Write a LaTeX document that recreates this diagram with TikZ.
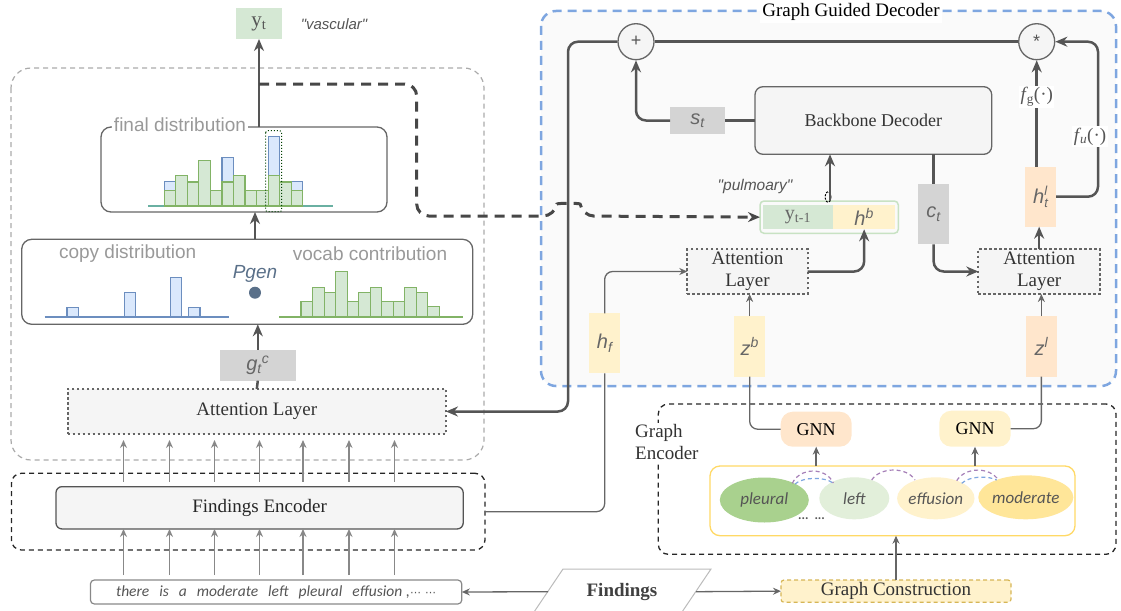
\documentclass[tikz,border=0pt]{standalone}
\usepackage{fontspec}
\setmainfont{Liberation Serif}
\newfontfamily\arialf{Liberation Sans}
\newfontfamily\calif{Carlito}
\newfontfamily\dejaf{DejaVu Sans}
\usetikzlibrary{arrows.meta,shapes.geometric,calc}
\definecolor{gfill}{HTML}{D5E8D4}
\definecolor{gline}{HTML}{82B366}
\definecolor{bfill}{HTML}{DAE8FC}
\definecolor{bline}{HTML}{6C8EBF}
\definecolor{tealline}{HTML}{6AB0A2}
\definecolor{yel}{HTML}{FFF2CC}
\definecolor{ora}{HTML}{FFE6CC}
\definecolor{lgr}{HTML}{D4D4D4}
\definecolor{dline}{HTML}{555555}
\definecolor{mline}{HTML}{666666}
\definecolor{sline}{HTML}{888888}
\definecolor{bluedash}{HTML}{7EA6E0}
\definecolor{purp}{HTML}{A680B8}
\definecolor{pg}{HTML}{5A7089}
\definecolor{lightbg}{HTML}{FAFAFA}
\definecolor{boxbg}{HTML}{F5F5F5}
\definecolor{txtgray}{HTML}{999999}
\definecolor{txtdark}{HTML}{333333}
\definecolor{outgray}{HTML}{AAAAAA}
\definecolor{ygreen}{HTML}{C8E2C3}
\definecolor{gcline}{HTML}{D6B656}
\definecolor{gboxline}{HTML}{FFD966}
\definecolor{pleuralc}{HTML}{A9D18E}
\definecolor{leftc}{HTML}{E2EFDA}
\definecolor{modc}{HTML}{FFE699}
\definecolor{paral}{HTML}{BBBBBB}
\tikzset{
  thickarr/.style={draw=dline, line width=2.5pt, -{Stealth[length=12pt,width=10pt]}, rounded corners=10pt},
  thickln/.style={draw=dline, line width=2.5pt, rounded corners=10pt},
  thinarr/.style={draw=mline, line width=1.3pt, -{Stealth[length=8pt,width=7pt]}, rounded corners=8pt},
  thinln/.style={draw=mline, line width=1.3pt, rounded corners=8pt},
  smallarr/.style={draw=sline, line width=1.5pt, -{Stealth[length=8pt,width=7pt]}},
  rbox/.style={inner sep=0pt, outer sep=0pt},
  serif/.style={font=\fontsize{19}{22}\selectfont, text=txtdark},
  gtext/.style={font=\arialf\itshape\fontsize{20}{22}\selectfont, text=mline},
  attn/.style={rbox, draw=mline, line width=2pt, dash pattern=on 2.5pt off 2.5pt, fill=boxbg, serif, align=center},
  gbar/.style={draw=gline, line width=1.1pt, fill=gfill},
  bbar/.style={draw=bline, line width=1.1pt, fill=bfill},
  ell/.style={ellipse, inner sep=0pt, font=\calif\itshape\fontsize{17}{20}\selectfont, text=dline},
  arcp/.style={draw=purp, line width=1.2pt, dash pattern=on 4pt off 3pt},
  arcb/.style={draw=bluedash, line width=1.2pt, dash pattern=on 4pt off 3pt},
}
\begin{document}
\begin{tikzpicture}[x=1pt,y=-1pt]
\useasboundingbox (0,0) rectangle (1121,610);

% ---------- decoder region ----------
\draw[draw=bluedash, line width=2.5pt, dash pattern=on 9pt off 6pt, fill=lightbg, rounded corners=15pt] (541,11) rectangle (1116,386);
\node[fill=white, inner sep=2pt, font=\fontsize{19}{22}\selectfont] (title) at (851,12) {Graph Guided Decoder};

% ---------- left: outer gray dashed ----------
\draw[draw=outgray, line width=1.2pt, dash pattern=on 5pt off 4pt, rounded corners=20pt] (11,68) rectangle (484,460);

% y_t
\node[rbox, fill=gfill, minimum width=46pt, minimum height=31pt, font=\fontsize{21}{22}\selectfont, text=dline] (yt) at (259,23.5) {y\textsubscript{t}};
\node[font=\arialf\itshape\fontsize{15}{18}\selectfont, text=dline] (vasc) at (334,24) {"vascular"};

% final distribution
\node[rbox, draw=mline, line width=1.3pt, rounded corners=10pt, minimum width=286pt, minimum height=85pt] (final) at (244,169.5) {};
\node[fill=white, inner sep=2pt, font=\arialf\fontsize{19}{22}\selectfont, text=txtgray] (fdl) at (180,125) {final distribution};
\draw[draw=tealline, line width=1.3pt] (148,206) -- (333,206);
\foreach \b/\t in {0/181.7,5/157.3,9/136.7,11/181.7}{
  \draw[bbar] ({164.3+\b*11.53},200) rectangle ({164.3+(\b+1)*11.53},\t);
}
\foreach \h [count=\i from 0] in {190.7,175.7,182,160.7,190.7,182,175.7,190.7,190.7,175.7,182,190.7}{
  \draw[gbar] ({164.3+\i*11.53},206) rectangle ({164.3+(\i+1)*11.53},\h);
}
\draw[draw=black!75!green, line width=1pt, dotted, rounded corners=2pt] (265.7,130.7) rectangle (281.7,211.7);

% copy / vocab
\node[rbox, draw=mline, line width=1.3pt, rounded corners=10pt, minimum width=451pt, minimum height=85pt] (mix) at (247.2,281.8) {};
\node[font=\arialf\fontsize{19}{22}\selectfont, text=txtgray] (copyl) at (127.7,254) {copy distribution};
\node[font=\arialf\fontsize{19}{22}\selectfont, text=txtgray] (vocl) at (370,254) {vocab contribution};
\node[font=\arialf\itshape\fontsize{19}{22}\selectfont, text=pg] (pgen) at (255,273.5) {Pgen};
\fill[pg] (255,292.7) circle (6pt);
\draw[draw=bline, line width=1.3pt] (44.7,317) -- (228.7,317);
\draw[bbar] (67,317) rectangle (78.7,307.7);
\draw[bbar] (124.3,317) rectangle (135.7,292.7);
\draw[bbar] (170.3,317) rectangle (181.7,277.7);
\draw[bbar] (188.3,317) rectangle (200,307.7);
\draw[draw=gline, line width=1.3pt] (279.3,317) -- (463.3,317);
\foreach \h [count=\i from 0] in {301.7,287.3,292.7,271.7,301.7,292.7,287.3,301.7,301.7,287.3,292.7,306.3}{
  \draw[gbar] ({301+\i*11.53},317) rectangle ({301+(\i+1)*11.53},\h);
}

% g_t^c
\node[rbox, fill=lgr, minimum width=75.7pt, minimum height=30.7pt, gtext] (gtc) at (257.8,365.3) {g\textsubscript{t}\textsuperscript{c}};

% attention layer (left)
\node[attn, minimum width=378.3pt, minimum height=45pt] (attL) at (256.8,411.5) {Attention Layer};

% findings encoder
\node[rbox, draw=black!85, line width=1.3pt, dash pattern=on 5pt off 4pt, rounded corners=10pt, minimum width=473.6pt, minimum height=76.7pt] (fencbox) at (248.2,511.65) {};
\node[rbox, draw=dline, line width=1.3pt, fill=boxbg, rounded corners=6pt, minimum width=407.2pt, minimum height=42.3pt, serif, text=black!85] (fenc) at (259.6,507.8) {Findings Encoder};

% sentence
\node[rbox, draw=sline, line width=1.2pt, rounded corners=4pt, minimum width=371.4pt, minimum height=24pt, font=\calif\itshape\fontsize{15.5}{17}\selectfont, text=dline] (tbox) at (276.1,592)
 {there\hspace{10pt}is\hspace{10pt}a\hspace{10pt}moderate\hspace{10pt}left\hspace{10pt}pleural\hspace{10pt}effusion\hspace{4pt},{\dejaf\fontsize{11}{12}\selectfont ⋯\hspace{4pt}⋯}};

\foreach \x in {123.5,169.5,214.5,259.5,303,349,394.5}{
  \draw[smallarr, shorten <=5pt, shorten >=6pt] (\x,0 |- fenc.north) -- (\x,0 |- attL.south);
  \draw[smallarr, shorten <=5pt] (\x,0 |- tbox.north) -- (\x,0 |- fenc.south);
}

% findings parallelogram
\draw[draw=paral, line width=1pt] (532,615) -- (563,569) -- (711,569) -- (680,615);
\node[font=\bfseries\fontsize{19}{22}\selectfont, text=black!75] (findings) at (622,591.7) {Findings};
\coordinate (findL) at (548,591.7);
\coordinate (findR) at (696,591.7);

% ---------- graph encoder ----------
\node[rbox, draw=black!85, line width=1.3pt, dash pattern=on 5pt off 4pt, rounded corners=10pt, minimum width=457.7pt, minimum height=150.3pt] (gencbox) at (887.15,479.15) {};
\node[fill=white, inner sep=1pt, anchor=west, align=left, font=\fontsize{19}{22}\selectfont, text=txtdark] (genc) at (634,442) {Graph\\Encoder};

\node[rbox, fill=ora, rounded corners=12pt, minimum width=71pt, minimum height=35pt, font=\fontsize{18}{20}\selectfont] (gnnL) at (816.2,429.2) {GNN};
\node[rbox, fill=yel, rounded corners=12pt, minimum width=71.4pt, minimum height=36pt, font=\fontsize{18}{20}\selectfont] (gnnR) at (975,428.7) {GNN};

\node[rbox, draw=gboxline, line width=1.3pt, rounded corners=10pt, fill=white, minimum width=365pt, minimum height=69.7pt] (gbox) at (892.5,500.85) {};
\node[ell, fill=pleuralc, minimum width=89pt, minimum height=45pt] (pleural) at (764.3,500) {pleural};
\node[ell, fill=leftc, minimum width=70pt, minimum height=42pt] (left) at (854.3,498.3) {left};
\node[ell, fill=yel, minimum width=70pt, minimum height=42pt] (effusion) at (935.8,498.3) {effusion};
\node[ell, fill=modc, minimum width=90pt, minimum height=44pt] (moderate) at (1025.8,497.3) {moderate};
\node[font=\calif\bfseries\fontsize{13}{14}\selectfont, text=dline] (dots) at (811.5,519) {...\hspace{6pt}...};
\draw[arcp] (792.3,483.3) .. controls (800,467) and (826,467) .. (833.3,483);
\draw[arcb] (795,484) .. controls (803,476.7) and (825,476.7) .. (833,483);
\draw[arcp] (871.7,480) .. controls (880,466.7) and (907,466.7) .. (915,480);
\draw[arcp] (956.7,480.7) .. controls (965,466.7) and (990,466.7) .. (998.3,480);
\draw[arcb] (961.7,483.3) .. controls (970,475.7) and (988,475.7) .. (996.7,480);

\node[rbox, draw=gcline, line width=1.2pt, dash pattern=on 4pt off 3pt, fill=yel, rounded corners=3pt, minimum width=230pt, minimum height=22.3pt, font=\fontsize{19}{22}\selectfont, text=txtdark] (gc) at (896,591.15) {Graph Construction};

% ---------- decoder contents ----------
\node[circle, draw=mline, line width=1.3pt, fill=boxbg, minimum size=36pt, inner sep=0pt, font=\arialf\fontsize{18}{20}\selectfont, text=dline] (plus) at (636,41.7) {+};
\node[circle, draw=mline, line width=1.3pt, fill=boxbg, minimum size=36pt, inner sep=0pt, font=\arialf\fontsize{18}{20}\selectfont, text=dline] (star) at (1036.7,41.7) {*};

\node[rbox, draw=mline, line width=1.3pt, fill=boxbg, rounded corners=8pt, minimum width=236.7pt, minimum height=67.6pt, font=\fontsize{18}{20}\selectfont, text=txtdark] (bb) at (873.35,120.5) {Backbone Decoder};
\node[rbox, fill=lgr, minimum width=55pt, minimum height=26.7pt, gtext] (st) at (697.5,120.5) {s\textsubscript{t}};
\node[font=\arialf\itshape\fontsize{15.5}{18}\selectfont, text=dline] (pulm) at (755,186.7) {"pulmoary"};

\node[rbox, draw=ygreen, line width=1.5pt, rounded corners=4pt, minimum width=138.3pt, minimum height=32.3pt] (yhb) at (829.15,217.15) {};
\node[rbox, fill=gfill, minimum width=70.6pt, minimum height=24.3pt, font=\fontsize{20}{22}\selectfont, text=mline] (yprev) at (798,217.15) {y\textsubscript{t-1}};
\node[rbox, fill=yel, minimum width=61.7pt, minimum height=24.3pt, gtext] (hb) at (864.15,217.15) {h\textsuperscript{b}};
\draw[black, line width=1pt, dash pattern=on 2pt off 1.5pt] (828,197) ellipse (3pt and 5.5pt);

\node[attn, minimum width=120.4pt, minimum height=45pt] (attDL) at (747.5,271.5) {Attention\\Layer};
\node[attn, minimum width=121.7pt, minimum height=45pt] (attDR) at (1039.15,271.5) {Attention\\Layer};

\node[rbox, fill=yel, minimum width=30.7pt, minimum height=60pt, gtext] (hf) at (604.65,343.3) {h\textsubscript{f}};
\node[rbox, fill=yel, minimum width=30.7pt, minimum height=60.7pt, gtext] (zb) at (749.65,346.35) {z\textsuperscript{b}};
\node[rbox, fill=ora, minimum width=30.7pt, minimum height=60.7pt, gtext] (zl) at (1041.35,346.35) {z\textsuperscript{l}};
\node[rbox, fill=lgr, minimum width=30.7pt, minimum height=60.3pt, gtext] (ct) at (933.65,214.15) {c\textsubscript{t}};
\node[rbox, fill=ora, minimum width=31pt, minimum height=60pt, gtext] (htl) at (1040.5,196.7) {h\makebox[0pt][l]{\raisebox{8pt}{\fontsize{13}{13}\selectfont l}}\raisebox{-4pt}{\fontsize{13}{13}\selectfont t}};

\coordinate (bendL) at (568,200);
\coordinate (fu) at (1098,120);

% ---------- connectors ----------
\draw[thickarr] (final.north -| yt.south) -- (yt.south);
\draw[thickarr] (255,0 |- mix.north) -- (255,0 |- final.south);
\draw[thickarr] (gtc.north) -- (gtc.north |- mix.south);
\draw[thickln] (attL.north) -- (gtc.south);
\draw[draw=black!72, line width=3pt, dash pattern=on 10pt off 7pt, rounded corners=12pt, -{Stealth[length=12pt,width=10pt]}]
  (259,84) -- (416.7,84) -- (416.7,216) -- (555,216) .. controls (557,203) and (580,203) .. (582,216) -- (yhb.west);

\draw[thickln] (star.west) -- (plus.east);
\draw[thickarr] (plus.west) -| (bendL) |- (attL.east);
\draw[thickln] (bb.west) -- (st.east);
\draw[thickarr] (st.west) -| (plus.south);
\draw[thickarr] (830,0 |- yhb.north) -- (830,0 |- bb.south);
\draw[thickln] (ct.north |- bb.south) -- (ct.north);
\draw[thickarr] (ct.south) |- (attDR.west);
\draw[thickarr] (attDL.east) -| (hb.south);
\draw[thickarr] (attDR.north) -- (attDR.north |- htl.south);
\draw[thickarr] (star.south |- htl.north) -- (star.south);
\draw[thickarr] (htl.east) -| (fu) |- (star.east);
\node[fill=white, inner sep=1.5pt, font=\fontsize{19}{22}\selectfont, text=dline] (fg) at (1036.7,96.7) {{\itshape f}\hspace{1pt}\textsubscript{g}(·)};
\node[fill=white, inner sep=1.5pt, font=\fontsize{19}{22}\selectfont, text=dline] (fulab) at (1090,136.7) {{\itshape f}\hspace{1pt}\textsubscript{\itshape u}(·)};

\draw[thinln] (fencbox.east) -| (hf.south);
\draw[thinarr] (hf.north) |- (attDL.west);
\draw[thinarr] (zb.north) -- (zb.north |- attDL.south);
\draw[thinarr] (zl.north) -- (zl.north |- attDR.south);
\draw[thinln] (gnnL.west) -| (zb.south);
\draw[thinln] (gnnR.east) -| (zl.south);
\draw[thinarr, line width=1.6pt] (gnnL.south |- gbox.north) -- (gnnL.south);
\draw[thinarr, line width=1.6pt] (gnnR.south |- gbox.north) -- (gnnR.south);
\draw[thinarr] (gc.north) -- (gc.north |- gbox.south);
\draw[thinarr] (findL) -- (tbox.east);
\draw[thinarr] (findR) -- (gc.west);
\end{tikzpicture}
\end{document}
